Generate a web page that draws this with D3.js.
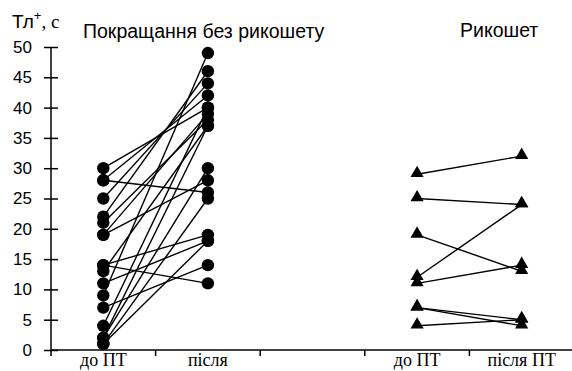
<!doctype html>
<html lang="uk">
<head>
  <meta charset="UTF-8">
  <title>Тл+</title>
  <style>
    body { margin: 0; background: #fff; }
    #app { width: 572px; height: 371px; }
  </style>
</head>
<body>
<div id="app"></div>
<script src="https://cdn.jsdelivr.net/npm/d3@7/dist/d3.min.js"></script>
<script>
  var width = 572;
  var height = 371;
  var SANS = '"Liberation Sans", Arial, sans-serif';
  var SERIF = '"Liberation Serif", "DejaVu Serif", serif';

  var categories = ['до ПТ', 'після', '', 'до ПТ ', 'після ПТ'];
  var yTicks = [0, 5, 10, 15, 20, 25, 30, 35, 40, 45, 50];

  // без рикошету: до -> після
  var noRicBefore = [30, 28, 28, 25, 22, 21, 19, 19, 14, 14, 13, 11, 9, 7, 4, 2, 2, 1, 1];
  var noRicAfter  = [40, 26, 42, 44, 46, 38, 28, 39, 11, 19, 37, 18, 49, 14, 40, 30, 37, 25, 18];

  // рикошет: до -> після
  var ricBefore = [29, 25, 19, 12, 11, 7, 7, 4];
  var ricAfter  = [32, 24, 13, 24, 14, 5, 4, 5];

  var x = d3.scaleBand().domain(categories).range([51, 574]);
  var y = d3.scaleLinear().domain([0, 50]).range([350, 47]);

  var svg = d3.select('#app')
              .append('svg')
              .attr('width', width)
              .attr('height', height);

  // y axis
  var yAxis = svg.append('g')
    .attr('transform', 'translate(51,0)')
    .call(d3.axisLeft(y).tickValues(yTicks).tickSize(7));
  yAxis.select('.domain').attr('d', 'M0,' + y(50) + 'V' + y(0)).attr('stroke-width', 1.5);
  yAxis.selectAll('.tick line').attr('x2', 7).attr('x1', -7).attr('stroke-width', 1.5);
  yAxis.selectAll('.tick text')
    .style('font-family', SANS)
    .style('font-size', '17px')
    .attr('fill', '#000')
    .attr('x', -19);

  // x axis
  var xAxis = svg.append('g')
    .attr('transform', 'translate(0,350)');
  xAxis.append('line')
    .attr('x1', 51).attr('x2', 572)
    .attr('stroke', '#000').attr('stroke-width', 1.5);
  var bounds = categories.map(d => x(d));
  xAxis.selectAll('line.xt')
    .data(bounds)
    .enter()
    .append('line')
    .attr('class', 'xt')
    .attr('x1', d => d).attr('x2', d => d)
    .attr('y1', 0).attr('y2', 6)
    .attr('stroke', '#000').attr('stroke-width', 1.5);
  xAxis.selectAll('text')
    .data(categories)
    .enter()
    .append('text')
    .style('font-family', SERIF)
    .style('font-size', '18px')
    .attr('x', d => x(d) + x.bandwidth() / 2)
    .attr('y', 16)
    .attr('text-anchor', 'middle')
    .text(d => d.trim());

  // лінії
  var xb1 = x('до ПТ') + x.bandwidth() / 2;
  var xa1 = x('після') + x.bandwidth() / 2;
  var xb2 = x('до ПТ ') + x.bandwidth() / 2;
  var xa2 = x('після ПТ') + x.bandwidth() / 2;

  svg.selectAll('line.pair1')
    .data(noRicBefore)
    .enter()
    .append('line')
    .attr('class', 'pair1')
    .attr('x1', xb1).attr('y1', d => y(d))
    .attr('x2', xa1).attr('y2', (d, i) => y(noRicAfter[i]))
    .attr('stroke', '#000').attr('stroke-width', 1.4);

  svg.selectAll('line.pair2')
    .data(ricBefore)
    .enter()
    .append('line')
    .attr('class', 'pair2')
    .attr('x1', xb2).attr('y1', d => y(d))
    .attr('x2', xa2).attr('y2', (d, i) => y(ricAfter[i]))
    .attr('stroke', '#000').attr('stroke-width', 1.4);

  // точки
  svg.selectAll('circle.b')
    .data(noRicBefore)
    .enter()
    .append('circle')
    .attr('cx', xb1).attr('cy', d => y(d)).attr('r', 6.2);
  svg.selectAll('circle.a')
    .data(noRicAfter)
    .enter()
    .append('circle')
    .attr('cx', xa1).attr('cy', d => y(d)).attr('r', 6.2);

  var tri = d3.symbol().type(d3.symbolTriangle).size(75);
  svg.selectAll('path.tb')
    .data(ricBefore)
    .enter()
    .append('path')
    .attr('d', tri)
    .attr('transform', d => 'translate(' + xb2 + ',' + (y(d) - 1) + ')');
  svg.selectAll('path.ta')
    .data(ricAfter)
    .enter()
    .append('path')
    .attr('d', tri)
    .attr('transform', d => 'translate(' + xa2 + ',' + (y(d) - 1) + ')');

  // підписи
  var lab = svg.append('text')
    .attr('x', 12).attr('y', 28)
    .style('font-size', '19px');
  lab.append('tspan').style('font-family', SANS).text('Тл');
  lab.append('tspan').style('font-family', SANS)
    .style('font-size', '13px').attr('dy', -8).text('+');
  lab.append('tspan').style('font-family', SERIF)
    .attr('dy', 8).text(', с');

  svg.append('text')
    .style('font-family', SANS)
    .style('font-size', '19.5px')
    .attr('x', 83).attr('y', 38)
    .text('Покращання без рикошету');
  svg.append('text')
    .style('font-family', SANS)
    .style('font-size', '19.5px')
    .attr('x', 460).attr('y', 37)
    .text('Рикошет');
</script>
</body>
</html>
